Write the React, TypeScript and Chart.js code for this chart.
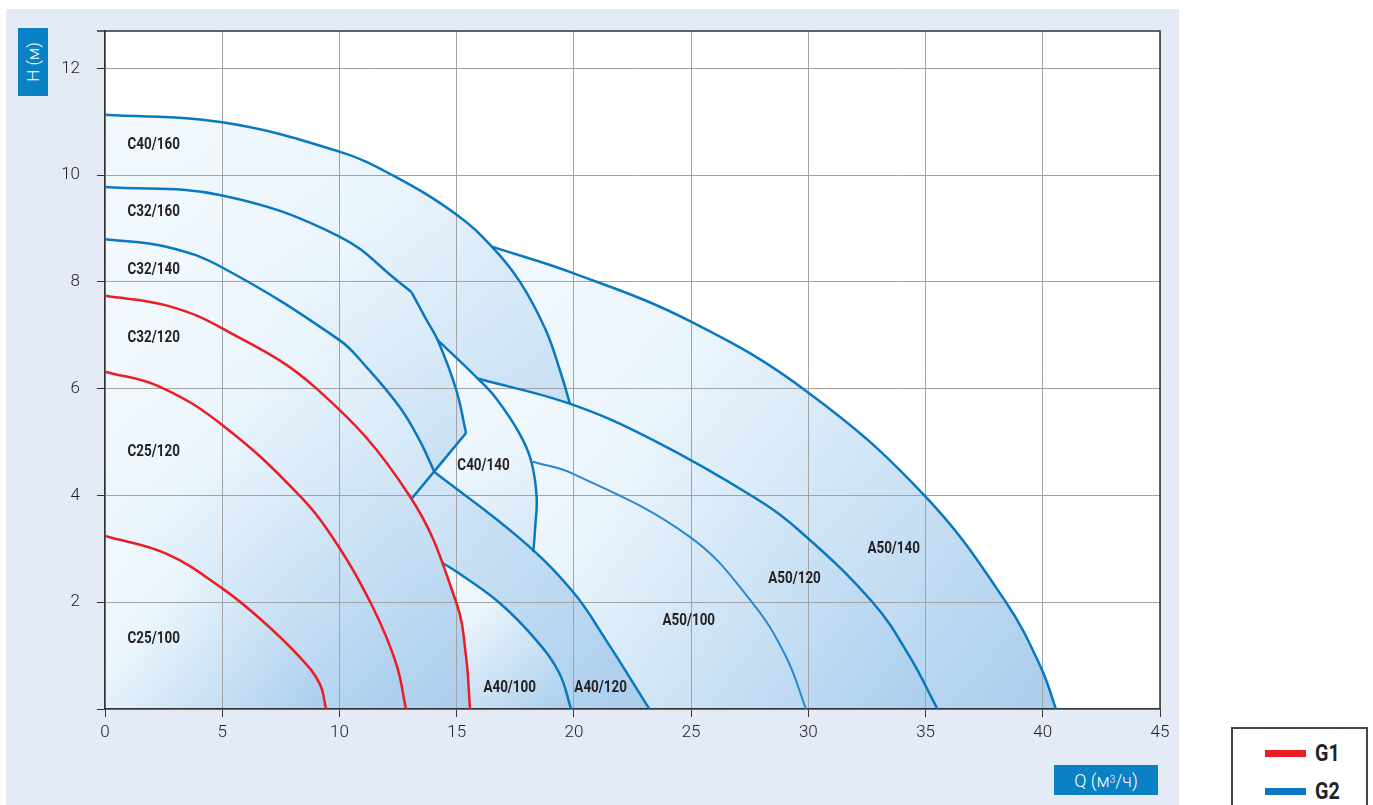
import React, { useEffect, useRef } from 'react';
import { Chart, registerables } from 'chart.js';

Chart.register(...registerables);

type Pt = [number, number];

// ---- axes ----
const Q_TICKS = [0, 5, 10, 15, 20, 25, 30, 35, 40, 45];
const H_TICKS = [0, 2, 4, 6, 8, 10, 12];
const Q_MAX = 45;
const H_MAX = 12.7;

// ---- G1 curves (red) : [Q m3/h, H m] ----
const C25_100: Pt[] = [[0, 3.24], [2.61, 2.91], [5, 2.26], [6.59, 1.7], [8.29, 0.98], [9.15, 0.48], [9.43, 0]];
const C25_120: Pt[] = [[0, 6.32], [2.32, 6.04], [5, 5.32], [8.29, 4.0], [9.97, 3.04], [11.42, 1.91], [12.42, 0.85], [12.84, 0]];
const C32_120: Pt[] = [[0, 7.74], [2.61, 7.56], [5, 7.13], [9.0, 6.01], [12.98, 4.0], [14.98, 2.0], [15.4, 0.98], [15.57, 0]];

// ---- G2 curves (blue) ----
const C32_140: Pt[] = [[0, 8.8], [2.61, 8.66], [5, 8.27], [10, 6.91], [11.14, 6.41], [12.56, 5.66], [13.41, 5.04], [14.05, 4.44]];
const C32_160_A: Pt[] = [[0, 9.78], [5, 9.62], [10, 8.85], [12.56, 7.99], [13.07, 7.81]];
const C32_160_B: Pt[] = [[13.07, 7.81], [13.7, 7.3], [14.19, 6.91], [14.98, 5.98], [15.4, 5.17]];
const C32_160_EDGE: Pt[] = [[15.4, 5.17], [13.06, 3.93]];
const C40_160: Pt[] = [[0, 11.13], [5, 10.99], [10, 10.44], [12.26, 10.0], [15, 9.26], [16.5, 8.66], [17.7, 8.0], [18.8, 7.1], [19.4, 6.35], [19.84, 5.71]];
const C40_140: Pt[] = [[14.19, 6.91], [15.9, 6.19], [16.68, 5.82], [17.68, 5.16], [18.17, 4.66], [18.41, 3.98], [18.35, 3.41], [18.27, 2.94]];
const A40_100: Pt[] = [[14.38, 2.74], [15, 2.57], [16.82, 1.99], [18.39, 1.29], [19.38, 0.67], [19.88, 0]];
const A40_120: Pt[] = [[14.05, 4.44], [17.68, 3.2], [19.95, 2.2], [21.37, 1.29], [23.22, 0]];
const A50_100: Pt[] = [[18.24, 4.63], [19.95, 4.41], [24.93, 3.23], [27.63, 1.98], [29.05, 0.98], [29.9, 0]];
const A50_120: Pt[] = [[15.9, 6.19], [19.88, 5.71], [23.36, 5.04], [27.63, 3.98], [29.62, 3.34], [32.74, 2.0], [34.3, 1.0], [35.51, 0]];
const A50_140: Pt[] = [[16.5, 8.66], [19.94, 8.17], [24.93, 7.27], [29.96, 5.94], [34.95, 4.0], [38.43, 2.0], [39.94, 0.76], [40.56, 0]];

// ---- region labels ----
const LABEL_TEXT = ['C40/160', 'C32/160', 'C32/140', 'C32/120', 'C25/120', 'C25/100', 'C40/140', 'A40/100', 'A40/120', 'A50/100', 'A50/120', 'A50/140'];
const LABEL_Q = [0.96, 0.96, 0.96, 0.96, 0.96, 0.96, 15.03, 16.14, 20.02, 23.78, 28.29, 32.52];
const LABEL_H = [10.57, 9.31, 8.22, 6.95, 4.82, 1.31, 4.55, 0.39, 0.39, 1.64, 2.43, 2.99];

const RED = '#ec1c24';
const BLUE = '#0a78c0';
const SANS = 'Roboto, "Noto Sans", sans-serif';
const TENSION = 0.4;

const toXY = (pts: Pt[]) => pts.map(([x, y]) => ({ x, y }));

function regionGradient(box: Pt[]) {
  return (ctx: any) => {
    const chart = ctx.chart;
    const xs = chart.scales && chart.scales.x;
    const ys = chart.scales && chart.scales.y;
    if (!xs || !ys || !chart.chartArea) return 'rgba(0,0,0,0)';
    let qMin = Infinity, qMax = -Infinity, hMax = -Infinity;
    box.forEach(([q, h]) => {
      qMin = Math.min(qMin, q);
      qMax = Math.max(qMax, q);
      hMax = Math.max(hMax, h);
    });
    const g = chart.ctx.createLinearGradient(
      xs.getPixelForValue(qMin), ys.getPixelForValue(hMax),
      xs.getPixelForValue(qMax), ys.getPixelForValue(0)
    );
    g.addColorStop(0, '#f3f9fe');
    g.addColorStop(0.3, '#ebf5fc');
    g.addColorStop(1, '#a9cded');
    return g;
  };
}

function fillSet(pts: Pt[], box: Pt[]) {
  return {
    data: toXY(pts),
    borderWidth: 0,
    borderColor: 'rgba(0,0,0,0)',
    pointRadius: 0,
    tension: TENSION,
    fill: 'origin',
    backgroundColor: regionGradient(box),
  };
}

function lineSet(pts: Pt[], color: string, width = 2.5) {
  return {
    data: toXY(pts),
    borderColor: color,
    borderWidth: width,
    pointRadius: 0,
    tension: TENSION,
    fill: false,
  };
}

const C40_140_REGION: Pt[] = [...C40_140, ...A40_120.filter(([q]) => q > C40_140[C40_140.length - 1][0])];

const frame = {
  id: 'frame',
  afterDraw(chart: any) {
    const { ctx, chartArea: a } = chart;
    ctx.save();
    ctx.strokeStyle = '#333';
    ctx.lineWidth = 1.5;
    ctx.beginPath();
    ctx.moveTo(a.left - 8, a.top);
    ctx.lineTo(a.right, a.top);
    ctx.lineTo(a.right, a.bottom);
    ctx.stroke();
    ctx.restore();
  },
};

const regionLabels = {
  id: 'regionLabels',
  afterDatasetsDraw(chart: any) {
    const { ctx } = chart;
    const xs = chart.scales.x;
    const ys = chart.scales.y;
    ctx.save();
    ctx.font = `bold 16px ${SANS}`;
    ctx.fillStyle = '#231f20';
    ctx.textAlign = 'left';
    ctx.textBaseline = 'middle';
    LABEL_TEXT.forEach((t, i) => {
      ctx.save();
      ctx.translate(xs.getPixelForValue(LABEL_Q[i]), ys.getPixelForValue(LABEL_H[i]));
      ctx.scale(0.84, 1);
      ctx.fillText(t, 0, 0);
      ctx.restore();
    });
    ctx.restore();
  },
};

export default function App() {
  const ref = useRef<HTMLCanvasElement | null>(null);

  useEffect(() => {
    if (!ref.current) return;
    const datasets: any[] = [
      // fills, top-most first
      fillSet(C25_100, C25_100),
      fillSet(C25_120, C25_120),
      fillSet(C32_120, C32_120),
      fillSet(A40_100, A40_100),
      fillSet([...C32_140, ...A40_120.slice(1)], [...C32_140, ...A40_120]),
      fillSet([[14.05, 4.44], [15.4, 5.17]], C40_140_REGION),
      fillSet([...C32_160_A, ...C32_160_B.slice(1)], [...C32_160_A, ...C32_160_B]),
      fillSet(C40_140_REGION, C40_140_REGION),
      fillSet(A50_120, A50_120),
      fillSet(C40_160, C40_160),
      fillSet(A50_140, A50_140),
      // lines
      lineSet(C25_100, RED),
      lineSet(C25_120, RED),
      lineSet(C32_120, RED),
      lineSet(C32_140, BLUE),
      lineSet(C32_160_A, BLUE),
      lineSet(C32_160_B, BLUE),
      lineSet(C32_160_EDGE, BLUE),
      lineSet(C40_160, BLUE),
      lineSet(C40_140, BLUE),
      lineSet(A40_100, BLUE),
      lineSet(A40_120, BLUE),
      lineSet(A50_100, '#2a88cb', 2),
      lineSet(A50_120, BLUE),
      lineSet(A50_140, BLUE),
    ];

    const tickFont = { family: SANS, size: 17, weight: '300' };

    const chart = new Chart(ref.current, {
      type: 'line',
      data: { datasets },
      options: {
        animation: false,
        responsive: false,
        events: [],
        layout: { padding: { left: 0, top: 31, right: 213, bottom: 56 } },
        plugins: {
          legend: { display: false },
          tooltip: { enabled: false },
          filler: { propagate: false, drawTime: 'beforeDraw' },
        } as any,
        scales: {
          x: {
            type: 'linear',
            min: 0,
            max: Q_MAX,
            afterBuildTicks: (s: any) => { s.ticks = Q_TICKS.map((v) => ({ value: v })); },
            afterFit: (s: any) => { s.height = 40; },
            grid: { color: '#a3a3a3', lineWidth: 1, tickLength: 8, tickColor: '#333' },
            border: { color: '#333', width: 1.5 },
            ticks: { color: '#222', font: tickFont, padding: 6, maxRotation: 0, autoSkip: false },
          },
          y: {
            type: 'linear',
            min: 0,
            max: H_MAX,
            afterBuildTicks: (s: any) => { s.ticks = H_TICKS.map((v) => ({ value: v })); },
            afterFit: (s: any) => { s.width = 105; },
            grid: { color: '#a3a3a3', lineWidth: 1, tickLength: 8, tickColor: '#333' },
            border: { color: '#333', width: 1.5 },
            ticks: {
              color: '#222',
              font: tickFont,
              padding: 17,
              autoSkip: false,
              callback: (v: any) => (Number(v) === 0 ? '' : String(v)),
            },
          },
        },
      } as any,
      plugins: [frame, regionLabels],
    });
    return () => chart.destroy();
  }, []);

  const legendText: React.CSSProperties = {
    position: 'absolute', left: 82, fontFamily: SANS, fontWeight: 'bold', fontSize: 24, color: '#222',
    lineHeight: '26px', transform: 'scaleX(0.82)', transformOrigin: 'left center',
  };

  return (
    <div style={{ position: 'absolute', left: 0, top: 0, width: 1373, height: 805, overflow: 'hidden', background: '#fff' }}>
      <div style={{ position: 'absolute', left: 6, top: 9, width: 1173, height: 796, background: '#e4ebf6' }} />
      <div style={{ position: 'absolute', left: 105, top: 31, width: 1055, height: 678, background: '#fff' }} />
      <canvas ref={ref} width={1373} height={805} style={{ position: 'absolute', left: 0, top: 0, display: 'block' }} />
      <div style={{ position: 'absolute', left: 18, top: 28, width: 30, height: 68, background: '#0a80c5', display: 'flex', alignItems: 'center', justifyContent: 'center' }}>
        <span style={{ transform: 'rotate(-90deg)', whiteSpace: 'nowrap', color: '#fff', fontFamily: SANS, fontWeight: 300, fontSize: 17 }}>H (м)</span>
      </div>
      <div style={{ position: 'absolute', left: 1054, top: 765, width: 104, height: 30, background: '#0a80c5', display: 'flex', alignItems: 'center', justifyContent: 'center', color: '#fff', fontFamily: SANS, fontWeight: 300, fontSize: 18, whiteSpace: 'nowrap' }}>
        Q (м<sup style={{ fontSize: 10, lineHeight: 0 }}>3</sup>/ч)
      </div>
      <div style={{ position: 'absolute', left: 1231, top: 727, width: 133, height: 100, border: '2px solid #444', background: '#fff' }}>
        <div style={{ position: 'absolute', left: 32, top: 21, width: 41, height: 7, background: RED }} />
        <div style={{ ...legendText, top: 11 }}>G1</div>
        <div style={{ position: 'absolute', left: 32, top: 59, width: 41, height: 7, background: BLUE }} />
        <div style={{ ...legendText, top: 49 }}>G2</div>
      </div>
    </div>
  );
}
